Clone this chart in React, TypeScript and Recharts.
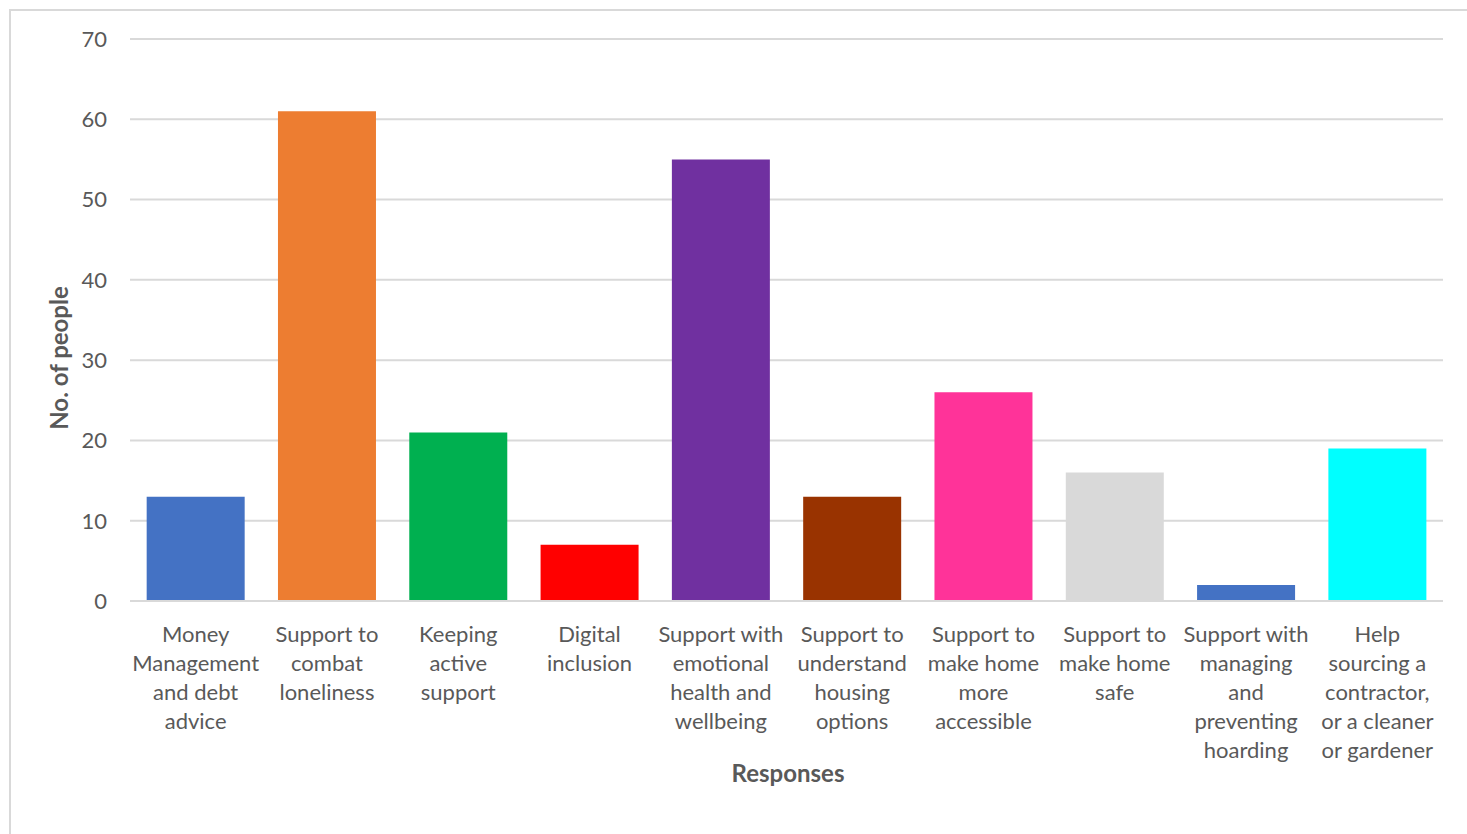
import { Bar, BarChart, CartesianGrid, Cell, Label, XAxis, YAxis } from "recharts"

const categories = [
  "Money Management and debt advice",
  "Support to combat loneliness",
  "Keeping active support",
  "Digital inclusion",
  "Support with emotional health and wellbeing",
  "Support to understand housing options",
  "Support to make home more accessible",
  "Support to make home safe",
  "Support with managing and preventing hoarding",
  "Help sourcing a contractor, or a cleaner or gardener",
]

// wrapped tick label lines, as in the original
const tickLines = [
  ["Money", "Management", "and debt", "advice"],
  ["Support to", "combat", "loneliness"],
  ["Keeping", "active", "support"],
  ["Digital", "inclusion"],
  ["Support with", "emotional", "health and", "wellbeing"],
  ["Support to", "understand", "housing", "options"],
  ["Support to", "make home", "more", "accessible"],
  ["Support to", "make home", "safe"],
  ["Support with", "managing", "and", "preventing", "hoarding"],
  ["Help", "sourcing a", "contractor,", "or a cleaner", "or gardener"],
]

const people = [13, 61, 21, 7, 55, 13, 26, 16, 2, 19]

const colors = [
  "#4472C4",
  "#ED7D31",
  "#00B050",
  "#FF0000",
  "#7030A0",
  "#993300",
  "#FF3399",
  "#D9D9D9",
  "#4472C4",
  "#00FFFF",
]

const yTicks = [0, 10, 20, 30, 40, 50, 60, 70]

const data = categories.map((name, i) => ({ name, people: people[i] }))

const font = "Lato, 'Open Sans', sans-serif"

function CategoryTick(props: any) {
  const { x, y, index } = props
  const lines = tickLines[index] || []
  return (
    <text
      x={x}
      y={y}
      textAnchor="middle"
      fill="#595959"
      fontSize={22}
      fontFamily={font}
    >
      {lines.map((line, i) => (
        <tspan key={i} x={x} dy={i === 0 ? 33 : 29}>
          {line}
        </tspan>
      ))}
    </text>
  )
}

export default function App() {
  return (
    <div
      style={{
        position: "fixed",
        left: 0,
        top: 0,
        width: 1467,
        height: 834,
        overflow: "hidden",
        background: "#fff",
      }}
    >
      <div
        style={{
          position: "absolute",
          left: 9,
          top: 9,
          width: 1480,
          height: 850,
          border: "2px solid #D9D9D9",
          boxSizing: "border-box",
        }}
      />
      <div style={{ position: "absolute", left: 0, top: 0 }}>
        <BarChart
          width={1467}
          height={834}
          data={data}
          margin={{ top: 39, right: 24, bottom: 33, left: 70 }}
          barCategoryGap="12.7%"
        >
          <CartesianGrid vertical={false} stroke="#D9D9D9" strokeWidth={2} />
          <XAxis
            dataKey="name"
            height={200}
            interval={0}
            axisLine={{ stroke: "#D9D9D9", strokeWidth: 2 }}
            tickLine={false}
            tick={<CategoryTick />}
          >
            <Label
              content={() => (
                <text
                  x={788}
                  y={782}
                  textAnchor="middle"
                  fill="#595959"
                  fontSize={24}
                  fontWeight="bold"
                  fontFamily={font}
                >
                  Responses
                </text>
              )}
            />
          </XAxis>
          <YAxis
            width={60}
            domain={[0, 70]}
            ticks={yTicks}
            axisLine={false}
            tickLine={false}
            tickMargin={17}
            tick={{ fill: "#595959", fontSize: 22, fontFamily: font }}
          >
            <Label
              content={() => (
                <text
                  x={68}
                  y={358}
                  textAnchor="middle"
                  fill="#595959"
                  fontSize={24}
                  fontWeight="bold"
                  fontFamily={font}
                  transform="rotate(-90 68 358)"
                >
                  No. of people
                </text>
              )}
            />
          </YAxis>
          <Bar dataKey="people" isAnimationActive={false}>
            {data.map((d, i) => (
              <Cell key={d.name} fill={colors[i]} />
            ))}
          </Bar>
        </BarChart>
      </div>
    </div>
  )
}
